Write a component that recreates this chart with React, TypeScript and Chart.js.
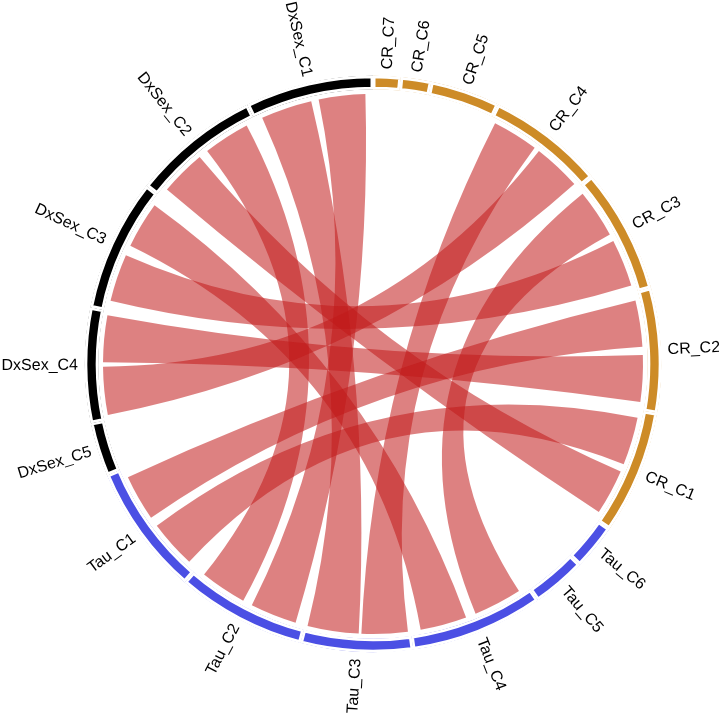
import React, { useEffect, useRef } from 'react';
import { Chart, registerables } from 'chart.js';

Chart.register(...registerables);

// Sectors, clockwise from 12 o'clock (sizes in degrees of the circle)
const sectorNames = [
  'CR_C7', 'CR_C6', 'CR_C5', 'CR_C4', 'CR_C3', 'CR_C2', 'CR_C1',
  'Tau_C6', 'Tau_C5', 'Tau_C4', 'Tau_C3', 'Tau_C2', 'Tau_C1',
  'DxSex_C5', 'DxSex_C4', 'DxSex_C3', 'DxSex_C2', 'DxSex_C1',
];
const sectorSizes = [
  5.55, 6.15, 14.05, 23.6, 25.3, 25.2, 25.05,
  9.25, 10.95, 26.9, 22.6, 26.2, 26.5,
  10.85, 23.2, 26.85, 25.95, 25.85,
];
const sectorGroups = [
  'CR', 'CR', 'CR', 'CR', 'CR', 'CR', 'CR',
  'Tau', 'Tau', 'Tau', 'Tau', 'Tau', 'Tau',
  'DxSex', 'DxSex', 'DxSex', 'DxSex', 'DxSex',
];
const groupColors: Record<string, string> = {
  CR: '#CD8B27',
  Tau: '#4B4FE4',
  DxSex: '#000000',
};

// Links (slot = position of the link end inside its sector, clockwise)
const linkSource = ['DxSex_C1', 'DxSex_C1', 'DxSex_C2', 'DxSex_C2', 'DxSex_C3', 'DxSex_C3', 'DxSex_C4', 'DxSex_C4', 'Tau_C1', 'Tau_C1', 'Tau_C3', 'Tau_C4'];
const linkSourceSlot = [0, 1, 0, 1, 0, 1, 0, 1, 0, 1, 0, 0];
const linkTarget = ['Tau_C3', 'Tau_C2', 'CR_C1', 'Tau_C2', 'CR_C3', 'Tau_C4', 'CR_C4', 'CR_C2', 'CR_C1', 'CR_C2', 'CR_C4', 'CR_C3'];
const linkTargetSlot = [1, 0, 1, 1, 1, 1, 1, 1, 0, 0, 0, 0];
const linkValues = [11, 10, 9.8, 10, 10.2, 10, 10.3, 10, 10.3, 9.9, 9.9, 10.4];

const ribbonColor = 'rgba(193, 25, 25, 0.55)';
const RIBBON_INSET = 4.5;
const LABEL_OFFSET = 6.5;
const LABEL_FONT = '16px "Liberation Sans", Arial, Helvetica, sans-serif';

const chordPlugin = {
  id: 'chordRibbons',
  afterDatasetsDraw(chart: any) {
    const meta = chart.getDatasetMeta(0);
    const arcs = meta.data;
    if (!arcs || !arcs.length) return;
    const ctx: CanvasRenderingContext2D = chart.ctx;
    const cx = arcs[0].x;
    const cy = arcs[0].y;
    const R = arcs[0].innerRadius - RIBBON_INSET;

    type End = { link: number; slot: number; value: number; side: 0 | 1 };
    const endsBySector: End[][] = sectorNames.map(() => []);
    linkValues.forEach((v, li) => {
      const si = sectorNames.indexOf(linkSource[li]);
      const ti = sectorNames.indexOf(linkTarget[li]);
      endsBySector[si].push({ link: li, slot: linkSourceSlot[li], value: v, side: 0 });
      endsBySector[ti].push({ link: li, slot: linkTargetSlot[li], value: v, side: 1 });
    });
    const pos: Record<string, [number, number]> = {};
    endsBySector.forEach((ends, i) => {
      if (!ends.length) return;
      const arc = arcs[i];
      const per = (arc.endAngle - arc.startAngle) / sectorSizes[i];
      ends.sort((a, b) => a.slot - b.slot);
      const total = ends.reduce((s, e) => s + e.value, 0);
      const pad = (sectorSizes[i] - total) / (ends.length + 1);
      let cur = arc.startAngle + pad * per;
      ends.forEach((e) => {
        const a1 = cur;
        const a2 = cur + e.value * per;
        pos[e.link + '_' + e.side] = [a1, a2];
        cur = a2 + pad * per;
      });
    });

    ctx.save();
    ctx.fillStyle = ribbonColor;
    linkValues.forEach((_, li) => {
      const [a1, a2] = pos[li + '_0'];
      const [b1, b2] = pos[li + '_1'];
      ctx.beginPath();
      ctx.arc(cx, cy, R, a1, a2, false);
      ctx.quadraticCurveTo(cx, cy, cx + R * Math.cos(b1), cy + R * Math.sin(b1));
      ctx.arc(cx, cy, R, b1, b2, false);
      ctx.quadraticCurveTo(cx, cy, cx + R * Math.cos(a1), cy + R * Math.sin(a1));
      ctx.closePath();
      ctx.fill();
    });
    ctx.restore();

    ctx.save();
    ctx.font = LABEL_FONT;
    ctx.fillStyle = '#000000';
    ctx.textBaseline = 'middle';
    arcs.forEach((arc: any, i: number) => {
      const mid = (arc.startAngle + arc.endAngle) / 2;
      const rl = arc.outerRadius + LABEL_OFFSET;
      const x = cx + rl * Math.cos(mid);
      const y = cy + rl * Math.sin(mid);
      ctx.save();
      ctx.translate(x, y);
      if (mid < Math.PI / 2) {
        ctx.rotate(mid);
        ctx.textAlign = 'left';
      } else {
        ctx.rotate(mid - Math.PI);
        ctx.textAlign = 'right';
      }
      ctx.fillText(sectorNames[i], 0, 0);
      ctx.restore();
    });
    ctx.restore();
  },
};

export default function App() {
  const ref = useRef<HTMLCanvasElement>(null);
  useEffect(() => {
    const chart = new Chart(ref.current!, {
      type: 'doughnut',
      data: {
        labels: sectorNames,
        datasets: [
          {
            data: sectorSizes,
            backgroundColor: sectorGroups.map((g) => groupColors[g]),
            borderColor: '#ffffff',
            borderWidth: 2.5,
            borderAlign: 'inner',
            borderJoinStyle: 'miter',
            hoverOffset: 0,
          } as any,
        ],
      },
      options: {
        responsive: true,
        maintainAspectRatio: false,
        animation: false,
        radius: 288.5,
        cutout: '95.147%',
        layout: { padding: { left: 60, right: 33, top: 40, bottom: 28 } },
        events: [],
        plugins: {
          legend: { display: false },
          tooltip: { enabled: false },
          title: { display: false },
        },
      } as any,
      plugins: [chordPlugin],
    });
    return () => chart.destroy();
  }, []);
  return (
    <div style={{ position: 'fixed', left: 0, top: 0, width: 719, height: 716, background: '#ffffff' }}>
      <canvas ref={ref} />
    </div>
  );
}
